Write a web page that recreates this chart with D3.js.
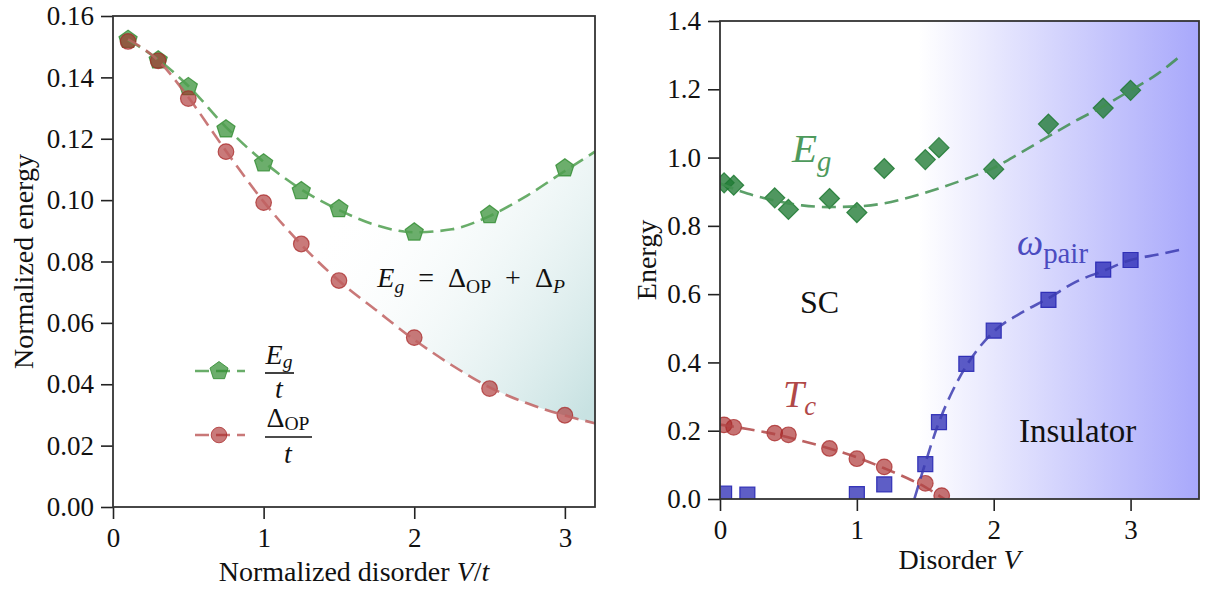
<!DOCTYPE html>
<html><head><meta charset="utf-8">
<script src="https://cdn.jsdelivr.net/npm/d3@7"></script>
<style>
html,body{margin:0;padding:0;background:#fff;}
svg text{font-family:"Liberation Serif","DejaVu Serif",serif;}
</style></head>
<body><svg id="chart" width="1206" height="594"></svg>
<script>
// ---------- Left panel data ----------
const leftX      = [0.1, 0.3, 0.5, 0.75, 1.0, 1.25, 1.5, 2.0, 2.5, 3.0];
const leftEg     = [0.1523, 0.1456, 0.1369, 0.1231, 0.1120, 0.1030, 0.0971, 0.0895, 0.0952, 0.1104];
const leftDop    = [0.1517, 0.1454, 0.1331, 0.1158, 0.0992, 0.0857, 0.0738, 0.0552, 0.0386, 0.0299];
const leftFitX   = [0.1, 0.3, 0.5, 0.75, 1.0, 1.25, 1.5, 1.75, 2.0, 2.25, 2.5, 2.75, 3.0, 3.2];
const leftEgFit  = [0.1522, 0.1458, 0.1372, 0.1238, 0.1125, 0.1035, 0.0968, 0.0918, 0.0895, 0.0905, 0.0948, 0.1015, 0.1095, 0.1158];
const leftDopFit = [0.1524, 0.1455, 0.1335, 0.1160, 0.0995, 0.0855, 0.0737, 0.0640, 0.0545, 0.0462, 0.0390, 0.0338, 0.0298, 0.0273];
const leftYTicks = [0, 0.02, 0.04, 0.06, 0.08, 0.10, 0.12, 0.14, 0.16];
const leftXTicks = [0, 1, 2, 3];

// ---------- Right panel data ----------
const rEgX   = [0.03, 0.1, 0.4, 0.5, 0.8, 1.0, 1.2, 1.5, 1.6, 2.0, 2.4, 2.8, 3.0];
const rEg    = [0.926, 0.919, 0.882, 0.848, 0.880, 0.839, 0.968, 0.994, 1.029, 0.966, 1.098, 1.145, 1.197];
const rEgFitX = [0, 0.2, 0.4, 0.6, 0.8, 1.0, 1.2, 1.4, 1.6, 1.8, 2.0, 2.2, 2.4, 2.6, 2.8, 3.0, 3.2, 3.35];
const rEgFit  = [0.924, 0.895, 0.874, 0.860, 0.855, 0.857, 0.866, 0.885, 0.910, 0.938, 0.970, 1.015, 1.062, 1.108, 1.150, 1.197, 1.246, 1.293];
const rTcX   = [0.03, 0.1, 0.4, 0.5, 0.8, 1.0, 1.2, 1.5, 1.62];
const rTc    = [0.217, 0.210, 0.193, 0.188, 0.148, 0.118, 0.094, 0.046, 0.010];
const rTcFitX = [0, 0.2, 0.4, 0.6, 0.8, 1.0, 1.2, 1.4, 1.5, 1.6, 1.64];
const rTcFit  = [0.218, 0.205, 0.190, 0.170, 0.148, 0.122, 0.090, 0.055, 0.035, 0.010, 0.0];
const rWX    = [0.03, 0.2, 1.0, 1.2, 1.5, 1.6, 1.8, 2.0, 2.4, 2.8, 3.0];
const rW     = [0.0155, 0.0126, 0.0145, 0.043, 0.102, 0.225, 0.396, 0.493, 0.583, 0.672, 0.700];
const rWFitX = [1.42, 1.5, 1.6, 1.7, 1.8, 2.0, 2.2, 2.4, 2.6, 2.8, 3.0, 3.2, 3.37];
const rWFit  = [0.0, 0.105, 0.225, 0.317, 0.390, 0.490, 0.545, 0.588, 0.636, 0.668, 0.700, 0.716, 0.731];
const rYTicks = [0, 0.2, 0.4, 0.6, 0.8, 1.0, 1.2, 1.4];
const rXTicks = [0, 1, 2, 3];

const FONT = '"Liberation Serif", "DejaVu Serif", serif';
const svg = d3.select("#chart");
const defs = svg.append("defs");

const L = {x0:113, x1:595, y0:16, y1:507};
const R = {x0:720, x1:1199, y0:21, y1:499};

const xL = d3.scaleLinear().domain([0, 3.2]).range([L.x0, L.x1]);
const yL = d3.scaleLinear().domain([0, 0.16]).range([L.y1, L.y0]);
const xR = d3.scaleLinear().domain([0, 3.5]).range([R.x0, R.x1]);
const yR = d3.scaleLinear().domain([0, 1.4]).range([R.y1, R.y0]);

const TICKFS = 27;

function pentagon(r){
  const pts = d3.range(5).map(i => {
    const a = -Math.PI/2 + i*2*Math.PI/5;
    return [r*Math.cos(a), r*Math.sin(a)];
  });
  return "M" + pts.map(p => p.join(",")).join("L") + "Z";
}
function diamond(h){ return `M0,${-h}L${h},0L0,${h}L${-h},0Z`; }
function square(s){ return `M${-s},${-s}H${s}V${s}H${-s}Z`; }

function axes(g, x, y, box, yTicks, xTicks, yFmt){
  const ya = d3.axisLeft(y).tickValues(yTicks).tickFormat(yFmt).tickSize(12).tickPadding(7);
  const xa = d3.axisBottom(x).tickValues(xTicks).tickFormat(d3.format("d")).tickSize(12).tickPadding(9);
  const gy = g.append("g").attr("transform", `translate(${box.x0},0)`).call(ya);
  const gx = g.append("g").attr("transform", `translate(0,${box.y1})`).call(xa);
  [gy, gx].forEach(a => {
    a.attr("font-family", FONT);
    a.select(".domain").remove();
    a.selectAll(".tick line").attr("stroke", "#222").attr("stroke-width", 1.6);
    a.selectAll(".tick text").attr("font-size", TICKFS).attr("fill", "#111")
      .attr("font-family", FONT);
  });
  gx.selectAll(".tick text").attr("dy", "0.72em");
  g.append("rect").attr("x", box.x0).attr("y", box.y0)
    .attr("width", box.x1 - box.x0).attr("height", box.y1 - box.y0)
    .attr("fill", "none").attr("stroke", "#333").attr("stroke-width", 1.8);
}

// math text helper: parts = [[text, {italic, sub}]]
function mathText(g, x, y, fs, parts, anchor, color, subScale, subDrop){
  const ss = subScale || 0.7;
  const sd = (subDrop === undefined ? 0.22 : subDrop) * fs;
  const t = g.append("text").attr("x", x).attr("y", y).attr("font-size", fs)
    .attr("font-family", FONT)
    .attr("fill", color || "#111").attr("text-anchor", anchor || "start");
  let inSub = false;
  parts.forEach(([s, o]) => {
    o = o || {};
    const sp = t.append("tspan").text(s);
    if (o.italic) sp.attr("font-style", "italic");
    if (o.sub && !inSub) { sp.attr("dy", sd).attr("font-size", fs*ss); inSub = true; }
    else if (o.sub) { sp.attr("font-size", fs*ss); }
    else if (!o.sub && inSub) { sp.attr("dy", -sd); inSub = false; }
  });
  return t;
}

// ================= LEFT PANEL =================
const gl = svg.append("g");
const clipL = defs.append("clipPath").attr("id", "clipL");
clipL.append("rect").attr("x", L.x0).attr("y", L.y0).attr("width", L.x1-L.x0).attr("height", L.y1-L.y0);

const gradL = defs.append("linearGradient").attr("id", "gradL").attr("gradientUnits", "userSpaceOnUse")
  .attr("x1", xL(1.45)).attr("y1", yL(0.095)).attr("x2", xL(3.2)).attr("y2", yL(0.035));
gradL.append("stop").attr("offset", 0).attr("stop-color", "#ffffff").attr("stop-opacity", 0);
gradL.append("stop").attr("offset", 1).attr("stop-color", "#c8e2e2").attr("stop-opacity", 1);

const fillData = leftFitX.map((v, i) => ({x: v, lo: leftDopFit[i], hi: leftEgFit[i]}));
gl.append("path").datum(fillData)
  .attr("clip-path", "url(#clipL)")
  .attr("d", d3.area().x(d => xL(d.x)).y0(d => yL(d.lo)).y1(d => yL(d.hi)).curve(d3.curveMonotoneX))
  .attr("fill", "url(#gradL)");

const lineL = d3.line().curve(d3.curveMonotoneX);
leftX.forEach((v, i) => {
  gl.append("path").attr("d", pentagon(9.5))
    .attr("transform", `translate(${xL(v)},${yL(leftEg[i])})`)
    .attr("fill", "#2e8b2e").attr("fill-opacity", 0.7)
    .attr("stroke", "#2e8b2e").attr("stroke-opacity", 0.8).attr("stroke-width", 1.2);
});
leftX.forEach((v, i) => {
  gl.append("circle").attr("cx", xL(v)).attr("cy", yL(leftDop[i])).attr("r", 7.8)
    .attr("fill", "#a82828").attr("fill-opacity", 0.62)
    .attr("stroke", "#a82828").attr("stroke-opacity", 0.75).attr("stroke-width", 1.2);
});
gl.append("path").attr("clip-path", "url(#clipL)")
  .attr("d", lineL(leftFitX.map((v, i) => [xL(v), yL(leftEgFit[i])])))
  .attr("fill", "none").attr("stroke", "#4f9f4f").attr("stroke-opacity", 0.85)
  .attr("stroke-width", 2.6).attr("stroke-dasharray", "14,7");
gl.append("path").attr("clip-path", "url(#clipL)")
  .attr("d", lineL(leftFitX.map((v, i) => [xL(v), yL(leftDopFit[i])])))
  .attr("fill", "none").attr("stroke", "#c06060").attr("stroke-opacity", 0.85)
  .attr("stroke-width", 2.6).attr("stroke-dasharray", "14,7");

axes(gl, xL, yL, L, leftYTicks, leftXTicks, d3.format(".2f"));

// annotation
mathText(gl, xL(1.755), yL(0.0717), 28, [
  ["E", {italic:true}], ["g", {italic:true, sub:true}], ["\u2002=\u2002Δ"], ["OP", {sub:true}],
  ["\u2002+\u2002Δ"], ["P", {italic:true, sub:true}]
]);

// legend
const legItems = [
  {y: 371, type: "pent", col: "#2e8b2e", lcol: "#4f9f4f"},
  {y: 435, type: "circ", col: "#a82828", lcol: "#c06060"}
];
legItems.forEach(it => {
  gl.append("line").attr("x1", 195).attr("x2", 245).attr("y1", it.y).attr("y2", it.y)
    .attr("stroke", it.lcol).attr("stroke-opacity", 0.85).attr("stroke-width", 2.6).attr("stroke-dasharray", "14,7");
  if (it.type === "pent") {
    gl.append("path").attr("d", pentagon(9.5)).attr("transform", `translate(219,${it.y})`)
      .attr("fill", it.col).attr("fill-opacity", 0.7).attr("stroke", it.col).attr("stroke-opacity", 0.8);
  } else {
    gl.append("circle").attr("cx", 219).attr("cy", it.y).attr("r", 7.8)
      .attr("fill", it.col).attr("fill-opacity", 0.62).attr("stroke", it.col).attr("stroke-opacity", 0.75);
  }
});
mathText(gl, 279, 364, 28, [["E", {italic:true}], ["g", {italic:true, sub:true}]], "middle", null, 0.7, 0.15);
gl.append("line").attr("x1", 265).attr("x2", 294).attr("y1", 373).attr("y2", 373).attr("stroke", "#111").attr("stroke-width", 1.6);
mathText(gl, 279, 398, 28, [["t", {italic:true}]], "middle");
mathText(gl, 288, 427, 28, [["Δ"], ["OP", {sub:true}]], "middle", null, 0.7, 0.12);
gl.append("line").attr("x1", 265).attr("x2", 312).attr("y1", 437).attr("y2", 437).attr("stroke", "#111").attr("stroke-width", 1.6);
mathText(gl, 288, 463, 28, [["t", {italic:true}]], "middle");

// axis labels
mathText(gl, (L.x0+L.x1)/2, 581, 28, [["Normalized disorder "], ["V", {italic:true}], ["/"], ["t", {italic:true}]], "middle");
gl.append("text").attr("transform", `translate(33,${(L.y0+L.y1)/2}) rotate(-90)`)
  .attr("font-family", FONT)
  .attr("text-anchor", "middle").attr("font-size", 28).attr("fill", "#111").text("Normalized energy");

// ================= RIGHT PANEL =================
const gr = svg.append("g");
const clipR = defs.append("clipPath").attr("id", "clipR");
clipR.append("rect").attr("x", R.x0).attr("y", R.y0).attr("width", R.x1-R.x0).attr("height", R.y1-R.y0);

const gradR = defs.append("linearGradient").attr("id", "gradR").attr("gradientUnits", "userSpaceOnUse")
  .attr("x1", xR(1.45)).attr("y1", 0).attr("x2", xR(3.5)).attr("y2", 0);
gradR.append("stop").attr("offset", 0).attr("stop-color", "#ffffff");
gradR.append("stop").attr("offset", 1).attr("stop-color", "#a8a8fb");
gr.append("rect").attr("x", R.x0).attr("y", R.y0).attr("width", R.x1-R.x0).attr("height", R.y1-R.y0)
  .attr("fill", "url(#gradR)");

const gm = gr.append("g").attr("clip-path", "url(#clipR)");
rEgX.forEach((v, i) => {
  gm.append("path").attr("d", diamond(10)).attr("transform", `translate(${xR(v)},${yR(rEg[i])})`)
    .attr("fill", "#1f7a33").attr("fill-opacity", 0.78)
    .attr("stroke", "#1f7a33").attr("stroke-opacity", 0.85).attr("stroke-width", 1.2);
});
rWX.forEach((v, i) => {
  gm.append("path").attr("d", square(7.5)).attr("transform", `translate(${xR(v)},${yR(rW[i])})`)
    .attr("fill", "#2020b0").attr("fill-opacity", 0.72)
    .attr("stroke", "#2020b0").attr("stroke-opacity", 0.85).attr("stroke-width", 1.2);
});
rTcX.forEach((v, i) => {
  gm.append("circle").attr("cx", xR(v)).attr("cy", yR(rTc[i])).attr("r", 7.8)
    .attr("fill", "#a82828").attr("fill-opacity", 0.65)
    .attr("stroke", "#a82828").attr("stroke-opacity", 0.75).attr("stroke-width", 1.2);
});
const lineR = d3.line().curve(d3.curveMonotoneX);
[[rEgFitX, rEgFit, "#3f8f4f"], [rWFitX, rWFit, "#3c3cb0"], [rTcFitX, rTcFit, "#b04545"]].forEach(([xs, ys, c]) => {
  gm.append("path").attr("d", lineR(xs.map((v, i) => [xR(v), yR(ys[i])])))
    .attr("fill", "none").attr("stroke", c).attr("stroke-opacity", 0.85)
    .attr("stroke-width", 2.6).attr("stroke-dasharray", "14,7");
});

axes(gr, xR, yR, R, rYTicks, rXTicks, d3.format(".1f"));

mathText(gr, 792, 162, 41, [["E", {italic:true}], ["g", {italic:true, sub:true}]], "start", "#4e9a5c");
mathText(gr, 1017, 255, 37, [["ω", {italic:true}], ["pair", {sub:true}]], "start", "#4b4bc0", 0.78);
mathText(gr, 783, 407, 38, [["T", {italic:true}], ["c", {italic:true, sub:true}]], "start", "#b04848");
gr.append("text").attr("x", 800).attr("y", 313).attr("font-family", FONT).attr("font-size", 32).attr("fill", "#111").text("SC");
gr.append("text").attr("x", 1019).attr("y", 442).attr("font-family", FONT).attr("font-size", 33).attr("fill", "#111").text("Insulator");

mathText(gr, (R.x0+R.x1)/2, 569, 28, [["Disorder "], ["V", {italic:true}]], "middle");
gr.append("text").attr("transform", `translate(656,${(R.y0+R.y1)/2}) rotate(-90)`)
  .attr("font-family", FONT)
  .attr("text-anchor", "middle").attr("font-size", 28).attr("fill", "#111").text("Energy");
</script></body></html>
